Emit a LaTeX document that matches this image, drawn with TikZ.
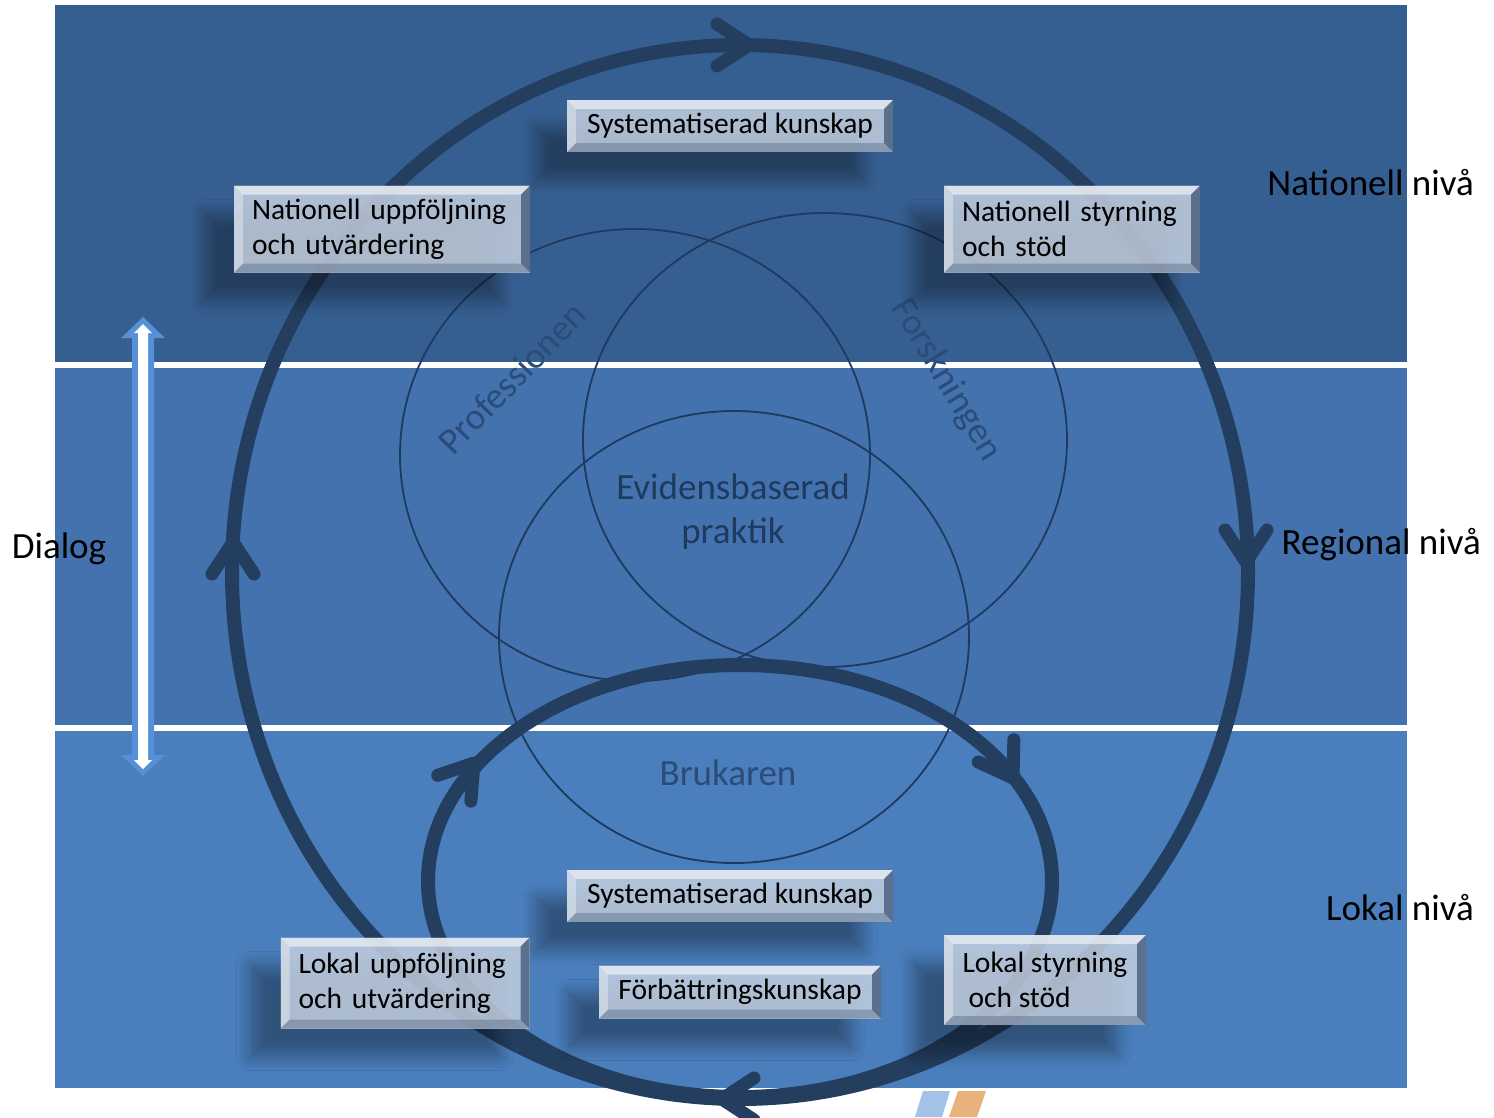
\documentclass[tikz,border=0pt]{standalone}
\usepackage{fontspec}
\setmainfont{Carlito}
\usetikzlibrary{shadows.blur}
\definecolor{bandA}{HTML}{365F91}
\definecolor{bandB}{HTML}{4372AE}
\definecolor{bandC}{HTML}{4A7EBC}
\definecolor{loopc}{HTML}{233E5F}
\definecolor{vennc}{HTML}{1F3A5E}
\definecolor{venntxt}{HTML}{2B4C78}
\definecolor{boxfill}{HTML}{C3CFDF}
\definecolor{bevdark}{HTML}{3E5573}
\definecolor{dialogc}{HTML}{5590D8}
\definecolor{logoblue}{HTML}{A3C3E6}
\definecolor{logoorange}{HTML}{E9B27C}
\begin{document}
\begin{tikzpicture}[x=1pt,y=-1pt,
  band/.style={fill=#1, draw=none},
  loopline/.style={draw=loopc, line width=14pt},
  chevline/.style={draw=loopc, line width=13pt, line cap=round, line join=round},
  venn/.style={draw=vennc, line width=1.8pt},
  venntext/.style={text=venntxt, font=\fontsize{37}{40}\selectfont},
  lvl/.style={text=black, font=\fontsize{37}{40}\selectfont, inner sep=0pt},
  bx/.style={fill=boxfill, fill opacity=0.85, text opacity=1, text=black,
    font=\fontsize{29.5}{35}\selectfont, inner sep=0pt,
    blur shadow={shadow xshift=-30pt, shadow yshift=-28pt, shadow blur radius=14pt, shadow blur steps=8, shadow opacity=40},
    path picture={
      \fill[white, fill opacity=0.55] (path picture bounding box.north west) -- (path picture bounding box.north east)
        -- ([xshift=-9pt,yshift=-9pt]path picture bounding box.north east) -- ([xshift=9pt,yshift=-9pt]path picture bounding box.north west) -- cycle;
      \fill[white, fill opacity=0.35] (path picture bounding box.north west) -- (path picture bounding box.south west)
        -- ([xshift=9pt,yshift=9pt]path picture bounding box.south west) -- ([xshift=9pt,yshift=-9pt]path picture bounding box.north west) -- cycle;
      \fill[bevdark, fill opacity=0.75] (path picture bounding box.north east) -- (path picture bounding box.south east)
        -- ([xshift=-9pt,yshift=9pt]path picture bounding box.south east) -- ([xshift=-9pt,yshift=-9pt]path picture bounding box.north east) -- cycle;
      \fill[bevdark, fill opacity=0.35] (path picture bounding box.south west) -- (path picture bounding box.south east)
        -- ([xshift=-9pt,yshift=9pt]path picture bounding box.south east) -- ([xshift=9pt,yshift=9pt]path picture bounding box.south west) -- cycle;
    }},
  chev/.pic={\draw[chevline] (-32,21) -- (0,0) -- (-32,-21);}
]
\useasboundingbox (0,0) rectangle (1494,1117);
% bands
\fill[white] (0,0) rectangle (1494,1117);
\fill[band=bandA] (55,5) rectangle (1407,362);
\fill[band=bandB] (55,368) rectangle (1407,725);
\fill[band=bandC] (55,731) rectangle (1407,1088);
% logo
\fill[logoblue] (923,1091) -- (950,1091) -- (942,1117) -- (915,1117) -- cycle;
\fill[logoorange] (958,1091) -- (986,1091) -- (977,1117) -- (949,1117) -- cycle;
% Venn circles
\draw[venn] (635,455) ellipse [x radius=235pt, y radius=226pt];
\draw[venn] (825,440) ellipse [x radius=242pt, y radius=227pt];
\draw[venn] (734,637) ellipse [x radius=235pt, y radius=226pt];
\node[venntext, rotate=46] (prof) at (512,378) {Professionen};
\node[venntext, rotate=-59] (forsk) at (946,380) {Forskningen};
\node[venntext] (bruk) at (728,773) {Brukaren};
\node[text=vennc, font=\fontsize{37}{44}\selectfont, align=center] (ebp) at (733,512) {Evidensbaserad\\praktik};
% big loop
\draw[loopline] (740,572) ellipse [x radius=508pt, y radius=527pt];
% small loop
\draw[loopline] (740,881) ellipse [x radius=312pt, y radius=216pt];
% chevrons
\pic[rotate=0] at (749,45) {chev};
\pic[rotate=-90] at (1246,562) {chev};
\pic[rotate=180] at (722,1099) {chev};
\pic[rotate=90] at (233,542) {chev};
\pic[rotate=52] at (474,763) {chev};
\pic[rotate=-58] at (1013,778) {chev};
% dialog arrow
\fill[dialogc] (143,317) -- (165,338) -- (154,338) -- (154,755) -- (165,755) -- (143,776) -- (121,755) -- (132,755) -- (132,338) -- (121,338) -- cycle;
\fill[white] (143,324) -- (152,333) -- (148,333) -- (148,760) -- (152,760) -- (143,769) -- (134,760) -- (138,760) -- (138,333) -- (134,333) -- cycle;
\node[lvl] (dialog) at (59,549) {Dialog};
% level labels
\node[lvl, anchor=east] (nat) at (1474,183) {Nationell nivå};
\node[lvl, anchor=east] (reg) at (1481,545) {Regional nivå};
\node[lvl, anchor=east] (lok) at (1474,908) {Lokal nivå};
% boxes
\node[bx, minimum width=326pt, minimum height=52pt] (sk1) at (730,126) {Systematiserad kunskap};
\node[bx, minimum width=296pt, minimum height=87pt, text width=260pt, align=left] (nuu) at (382,229) {Nationell uppföljning\\och utvärdering};
\node[bx, minimum width=256pt, minimum height=87pt, text width=220pt, align=left] (nss) at (1072,229) {Nationell styrning\\och stöd};
\node[bx, minimum width=326pt, minimum height=52pt] (sk2) at (730,896) {Systematiserad kunskap};
\node[bx, minimum width=249pt, minimum height=91pt, text width=213pt, align=left] (luu) at (405,983) {Lokal uppföljning\\och utvärdering};
\node[bx, minimum width=282pt, minimum height=53pt] (fk) at (740,992) {Förbättringskunskap};
\node[bx, minimum width=202pt, minimum height=90pt, align=left] (lss) at (1045,980) {Lokal styrning\\\hspace*{6pt}och stöd};
\end{tikzpicture}
\end{document}
